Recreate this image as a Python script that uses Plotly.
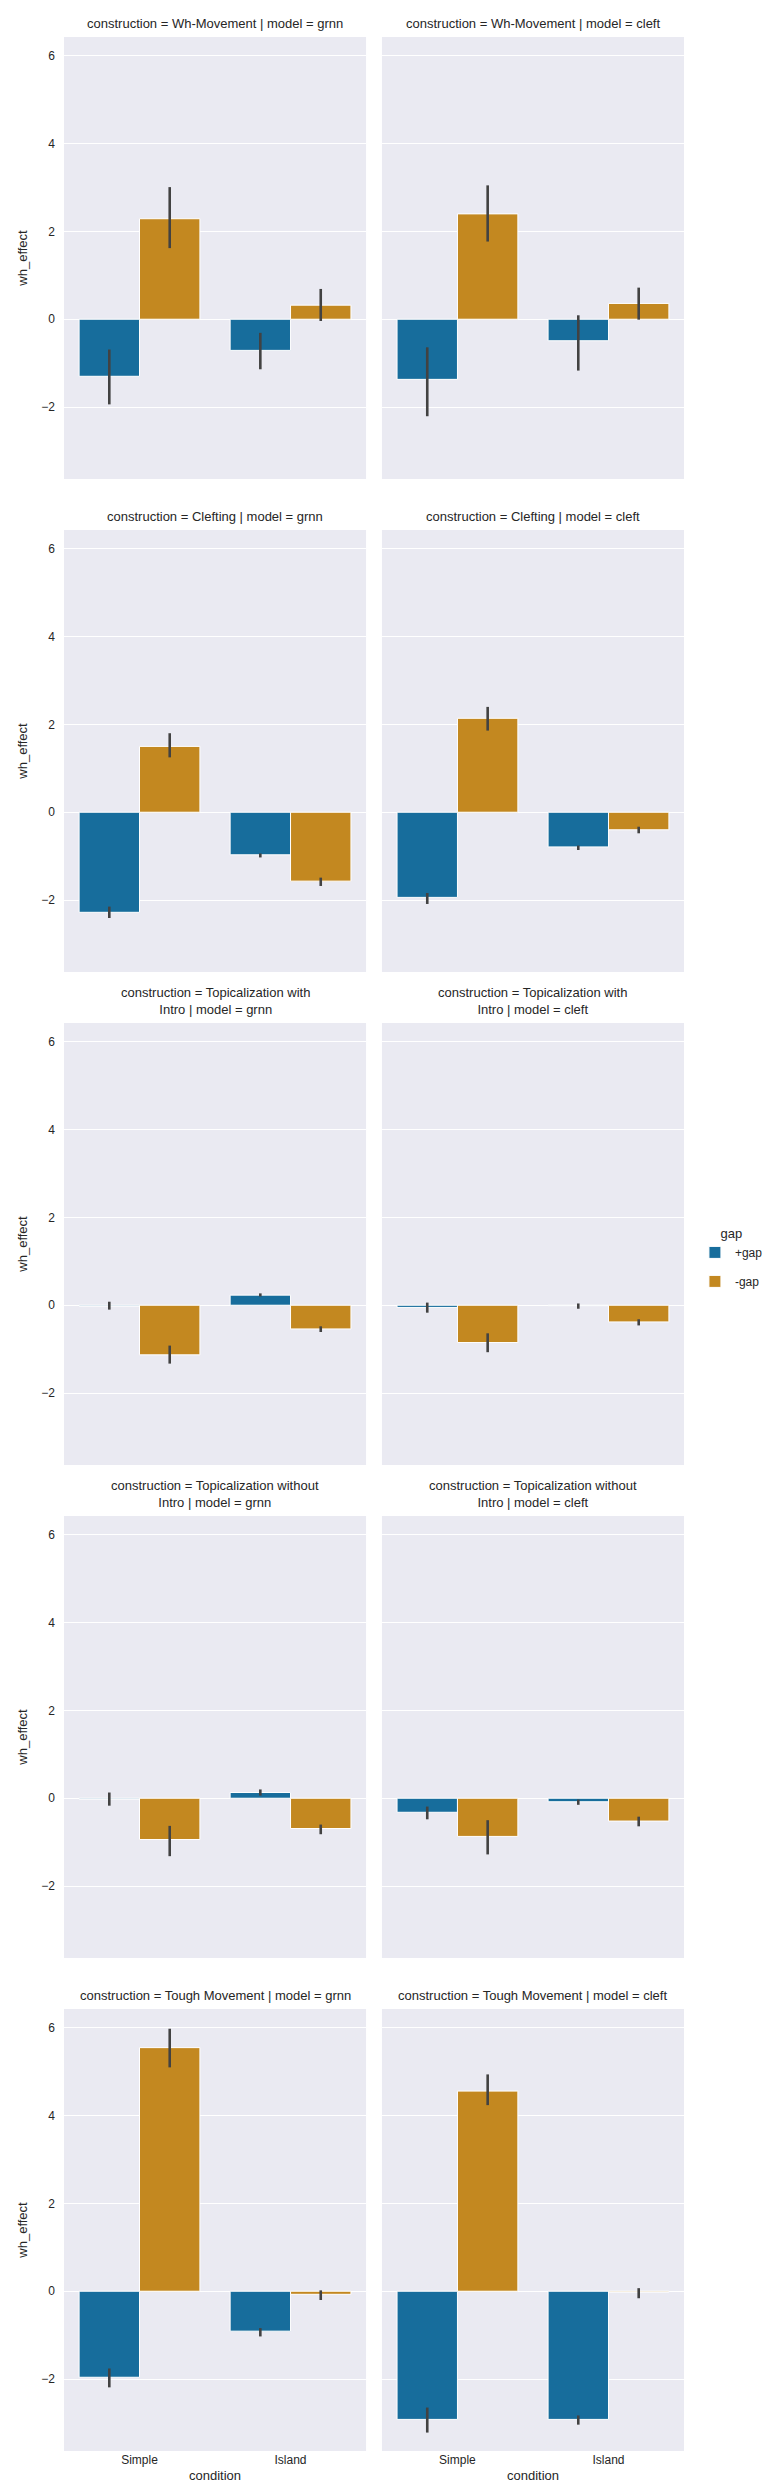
import plotly.graph_objects as go
from plotly.subplots import make_subplots

# facets and categories
constructions = ["Wh-Movement", "Clefting", "Topicalization with<br>Intro",
                 "Topicalization without<br>Intro", "Tough Movement"]
models = ["grnn", "cleft"]
conditions = ["Simple", "Island"]
gaps = ["+gap", "-gap"]

# mean wh_effect per construction -> [Simple, Island]
grnn_plus_mean = [[-1.30, -0.71], [-2.28, -0.97], [-0.02, 0.23], [-0.02, 0.13], [-1.96, -0.91]]
grnn_plus_lo = [[-1.94, -1.14], [-2.41, -1.03], [-0.10, 0.20], [-0.17, 0.06], [-2.19, -1.03]]
grnn_plus_hi = [[-0.69, -0.31], [-2.15, -0.94], [0.08, 0.27], [0.13, 0.20], [-1.76, -0.84]]

grnn_minus_mean = [[2.29, 0.32], [1.50, -1.57], [-1.13, -0.54], [-0.94, -0.69], [5.55, -0.07]]
grnn_minus_lo = [[1.62, -0.04], [1.25, -1.68], [-1.33, -0.61], [-1.32, -0.82], [5.10, -0.20]]
grnn_minus_hi = [[3.01, 0.69], [1.80, -1.49], [-0.92, -0.48], [-0.63, -0.60], [5.98, 0.02]]

cleft_plus_mean = [[-1.37, -0.49], [-1.94, -0.79], [-0.05, -0.01], [-0.32, -0.08], [-2.92, -2.92]]
cleft_plus_lo = [[-2.21, -1.17], [-2.09, -0.86], [-0.17, -0.08], [-0.48, -0.15], [-3.22, -3.04]]
cleft_plus_hi = [[-0.64, 0.09], [-1.84, -0.76], [0.06, 0.04], [-0.19, -0.03], [-2.65, -2.83]]

cleft_minus_mean = [[2.40, 0.36], [2.14, -0.40], [-0.85, -0.38], [-0.87, -0.52], [4.56, -0.02]]
cleft_minus_lo = [[1.77, -0.01], [1.86, -0.48], [-1.07, -0.46], [-1.28, -0.64], [4.24, -0.16]]
cleft_minus_hi = [[3.05, 0.72], [2.40, -0.33], [-0.64, -0.32], [-0.50, -0.42], [4.94, 0.07]]

data = {
    ("grnn", "+gap"): (grnn_plus_mean, grnn_plus_lo, grnn_plus_hi),
    ("grnn", "-gap"): (grnn_minus_mean, grnn_minus_lo, grnn_minus_hi),
    ("cleft", "+gap"): (cleft_plus_mean, cleft_plus_lo, cleft_plus_hi),
    ("cleft", "-gap"): (cleft_minus_mean, cleft_minus_lo, cleft_minus_hi),
}
colors = {"+gap": "#176d9c", "-gap": "#c38820"}

W, H = 772, 2490
ml, mr, mt, mb = 56, 92, 29, 47
pw, ph = W - ml - mr, H - mt - mb

titles = []
for c in constructions:
    for m in models:
        titles.append("construction = %s | model = %s" % (c, m))

fig = make_subplots(rows=5, cols=2, subplot_titles=titles,
                    horizontal_spacing=16 / pw, vertical_spacing=51 / ph)

for r, c in enumerate(constructions):
    for ci, m in enumerate(models):
        for g in gaps:
            mean, lo, hi = data[(m, g)]
            y = mean[r]
            fig.add_trace(go.Bar(
                x=conditions, y=y, name=g, legendgroup=g,
                showlegend=(r == 0 and ci == 0),
                marker=dict(color=colors[g], line=dict(color="white", width=1)),
                error_y=dict(type="data", symmetric=False,
                             array=[hi[r][k] - y[k] for k in range(2)],
                             arrayminus=[y[k] - lo[r][k] for k in range(2)],
                             color="#424242", thickness=2.6, width=0),
            ), row=r + 1, col=ci + 1)

fig.update_xaxes(type="category", categoryorder="array", categoryarray=conditions,
                 range=[-0.5, 1.5], showgrid=False, zeroline=False,
                 showticklabels=False, ticks="")
fig.update_xaxes(showticklabels=True, tickfont=dict(size=12, color="#262626"),
                 title_text="condition", title_font=dict(size=13, color="#262626"),
                 title_standoff=4, row=5)
fig.update_yaxes(range=[-3.64, 6.43], tickvals=[-2, 0, 2, 4, 6],
                 gridcolor="white", gridwidth=1, zeroline=False,
                 showticklabels=False, ticks="")
fig.update_yaxes(showticklabels=True, tickfont=dict(size=12, color="#262626"),
                 ticklabelstandoff=8,
                 title_text="wh_effect", title_font=dict(size=13, color="#262626"),
                 title_standoff=10, col=1)

for a in fig.layout.annotations:
    a.font = dict(size=13, color="#262626")
    a.yshift = 4

fig.update_layout(
    width=W, height=H, autosize=False,
    margin=dict(l=ml, r=mr, t=mt, b=mb),
    barmode="group", bargap=0.2, bargroupgap=0,
    plot_bgcolor="#eaeaf2", paper_bgcolor="white",
    font=dict(family="Liberation Sans, Arial, sans-serif", color="#262626"),
    legend=dict(x=(691 - ml) / pw, y=1 - (1213 - mt) / ph, xanchor="left", yanchor="top",
                title=dict(text="gap", side="top center", font=dict(size=13)),
                font=dict(size=12), bgcolor="rgba(0,0,0,0)"),
)

fig.write_html("out.html")
